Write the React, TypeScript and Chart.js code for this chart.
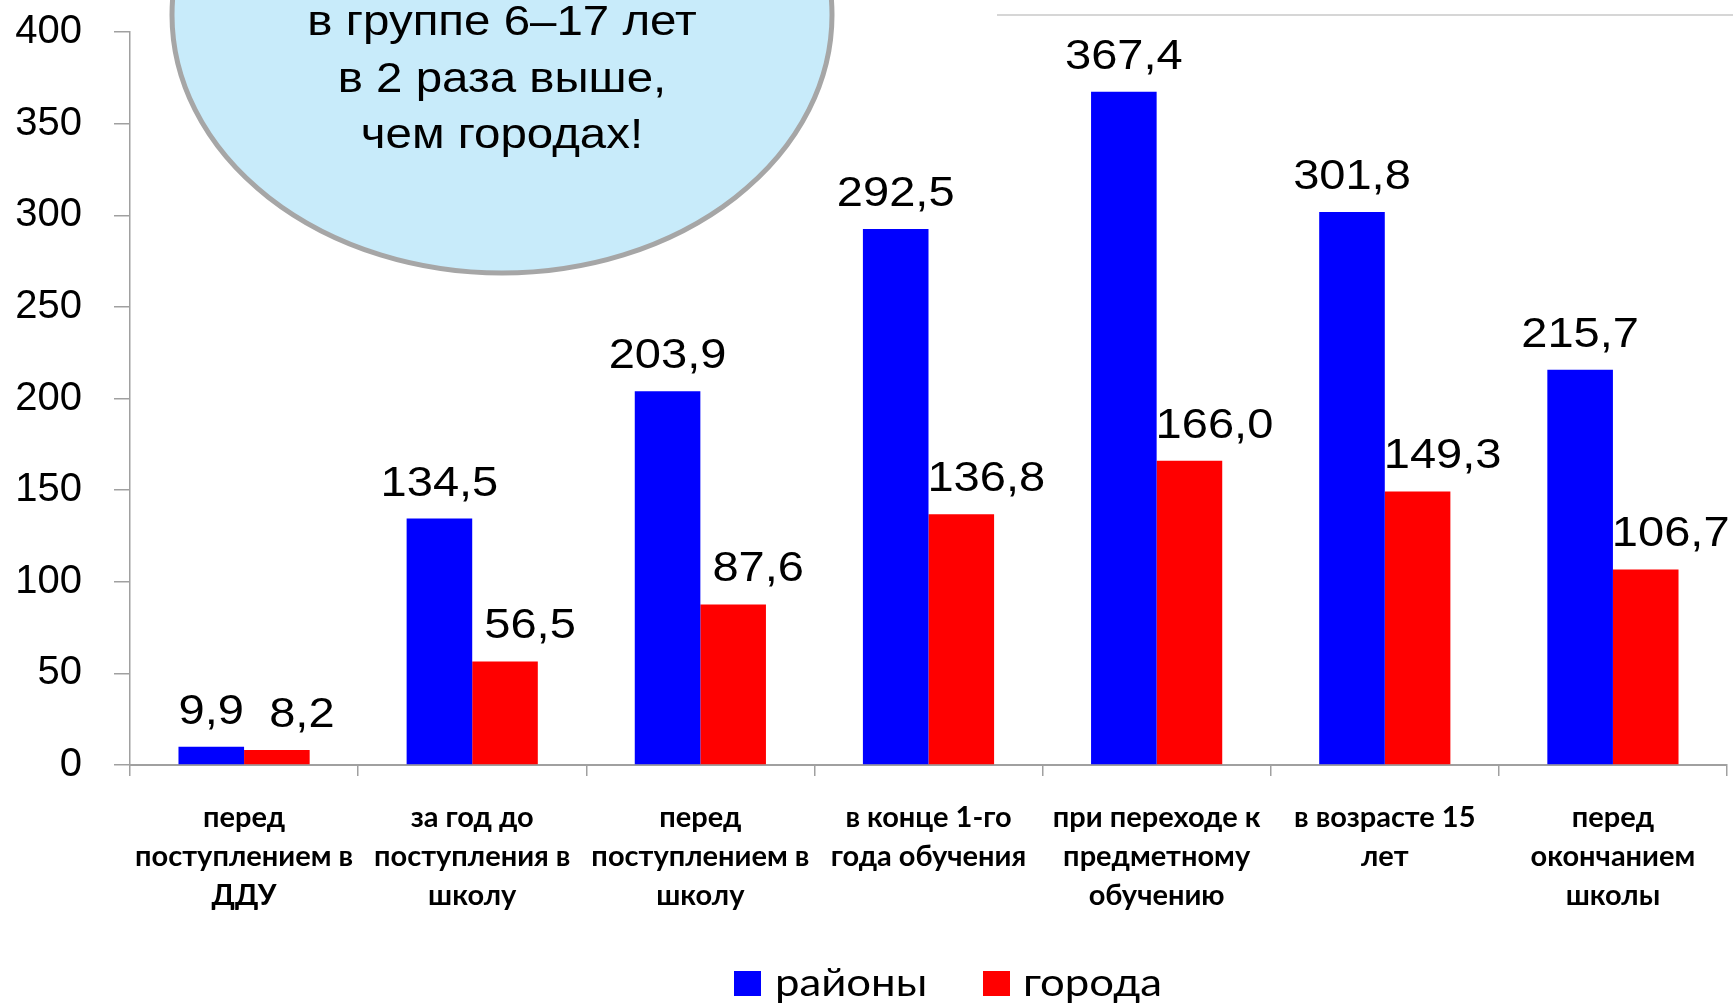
import React, { useEffect, useRef } from "react";
import { Chart, registerables } from "chart.js";

Chart.register(...registerables);

const categories: string[][] = [
  ["перед", "поступлением в", "ДДУ"],
  ["за год до", "поступления в", "школу"],
  ["перед", "поступлением в", "школу"],
  ["в конце 1-го", "года обучения"],
  ["при переходе к", "предметному", "обучению"],
  ["в возрасте 15", "лет"],
  ["перед", "окончанием", "школы"],
];
const rayony: number[] = [9.9, 134.5, 203.9, 292.5, 367.4, 301.8, 215.7];
const goroda: number[] = [8.2, 56.5, 87.6, 136.8, 166.0, 149.3, 106.7];
const seriesNames: string[] = ["районы", "города"];
const seriesColors: string[] = ["#0000FF", "#FF0000"];
const calloutLines: string[] = ["в группе 6–17 лет", "в 2 раза выше,", "чем городах!"];
const yMin = 0;
const yMax = 400;
const yStep = 50;

const fmt = (v: number) => v.toFixed(1).replace(".", ",");

function drawStretched(
  ctx: CanvasRenderingContext2D,
  text: string,
  x: number,
  y: number,
  font: string,
  sx: number,
  align: CanvasTextAlign,
  color: string
) {
  ctx.save();
  ctx.font = font;
  ctx.fillStyle = color;
  ctx.textAlign = align;
  ctx.textBaseline = "alphabetic";
  ctx.translate(x, y);
  ctx.scale(sx, 1);
  ctx.fillText(text, 0, 0);
  ctx.restore();
}

const valueLabels = {
  id: "valueLabels",
  afterDatasetsDraw(chart: any) {
    const ctx = chart.ctx as CanvasRenderingContext2D;
    const offsets = [0, 25];
    chart.data.datasets.forEach((ds: any, i: number) => {
      const meta = chart.getDatasetMeta(i);
      meta.data.forEach((el: any, j: number) => {
        drawStretched(
          ctx,
          fmt(ds.data[j]),
          el.x + offsets[i],
          el.y - 23,
          '42px "Liberation Sans", Arial, sans-serif',
          1.12,
          "center",
          "#000"
        );
      });
    });
  },
};

const decorations = {
  id: "decorations",
  afterDraw(chart: any) {
    const ctx = chart.ctx as CanvasRenderingContext2D;
    // faint strip at top right
    ctx.save();
    ctx.strokeStyle = "#D6D6D6";
    ctx.lineWidth = 2;
    ctx.beginPath();
    ctx.moveTo(997, 15);
    ctx.lineTo(1733, 15);
    ctx.stroke();
    ctx.restore();

    // callout ellipse
    ctx.save();
    ctx.beginPath();
    ctx.ellipse(502, 15, 330, 258, 0, 0, Math.PI * 2);
    ctx.fillStyle = "#C8EBFA";
    ctx.fill();
    ctx.lineWidth = 5;
    ctx.strokeStyle = "#A6A6A6";
    ctx.stroke();
    ctx.restore();
    calloutLines.forEach((line, i) => {
      drawStretched(
        ctx,
        line,
        502,
        35 + i * 56.5,
        '42px "Liberation Sans", Arial, sans-serif',
        1.13,
        "center",
        "#000"
      );
    });

    // legend
    const items = [
      { box: 734, text: 775 },
      { box: 983, text: 1023 },
    ];
    items.forEach((it, i) => {
      ctx.save();
      ctx.fillStyle = seriesColors[i];
      ctx.fillRect(it.box, 971, 27, 25);
      ctx.restore();
      drawStretched(
        ctx,
        seriesNames[i],
        it.text,
        996,
        '38px Lato, "Noto Sans", sans-serif',
        1.15,
        "left",
        "#000"
      );
    });
  },
};

export default function App() {
  const ref = useRef<HTMLCanvasElement | null>(null);

  useEffect(() => {
    document.body.style.margin = "0";
    const canvas = ref.current!;
    const chart = new Chart(canvas, {
      type: "bar",
      data: {
        labels: categories,
        datasets: [
          {
            label: seriesNames[0],
            data: rayony,
            backgroundColor: seriesColors[0],
            borderWidth: 0,
            categoryPercentage: 0.575,
            barPercentage: 1,
          },
          {
            label: seriesNames[1],
            data: goroda,
            backgroundColor: seriesColors[1],
            borderWidth: 0,
            categoryPercentage: 0.575,
            barPercentage: 1,
          },
        ],
      },
      options: {
        responsive: false,
        animation: false,
        devicePixelRatio: 1,
        layout: { padding: { left: 0, right: 6, top: 32, bottom: 0 } },
        plugins: {
          legend: { display: false },
          tooltip: { enabled: false },
          title: { display: false },
        },
        scales: {
          x: {
            grid: {
              display: true,
              offset: true,
              drawOnChartArea: false,
              drawTicks: true,
              tickLength: 11,
              color: "#A0A0A0",
              lineWidth: 1.5,
            },
            border: { display: true, color: "#A0A0A0", width: 2 },
            ticks: {
              autoSkip: false,
              maxRotation: 0,
              minRotation: 0,
              padding: 22,
              color: "#000",
              font: { family: 'Lato, "Noto Sans", sans-serif', size: 29, weight: "bold", lineHeight: 1.345 },
            },
            afterFit(scale: any) {
              scale.height = 241;
            },
          },
          y: {
            min: yMin,
            max: yMax,
            grid: {
              display: true,
              drawOnChartArea: false,
              drawTicks: true,
              tickLength: 16,
              color: "#A0A0A0",
              lineWidth: 1.5,
            },
            border: { display: true, color: "#A0A0A0", width: 1.5 },
            ticks: {
              stepSize: yStep,
              padding: 32,
              color: "#000",
              font: { family: '"Liberation Sans", Arial, sans-serif', size: 40 },
            },
            afterFit(scale: any) {
              scale.width = 130;
              scale.paddingTop = 0;
              scale.paddingBottom = 0;
            },
          },
        },
      },
      plugins: [valueLabels, decorations],
    });

    let alive = true;
    if ((document as any).fonts && (document as any).fonts.load) {
      Promise.all([
        document.fonts.load('bold 29px Lato'),
        document.fonts.load('38px Lato'),
        document.fonts.load('42px "Liberation Sans"'),
      ])
        .then(() => {
          if (alive) chart.update();
        })
        .catch(() => {});
    }

    return () => {
      alive = false;
      chart.destroy();
    };
  }, []);

  return (
    <div style={{ position: "fixed", left: 0, top: 0, width: 1733, height: 1006, background: "#fff" }}>
      <canvas ref={ref} width={1733} height={1006} style={{ display: "block", width: 1733, height: 1006 }} />
    </div>
  );
}
